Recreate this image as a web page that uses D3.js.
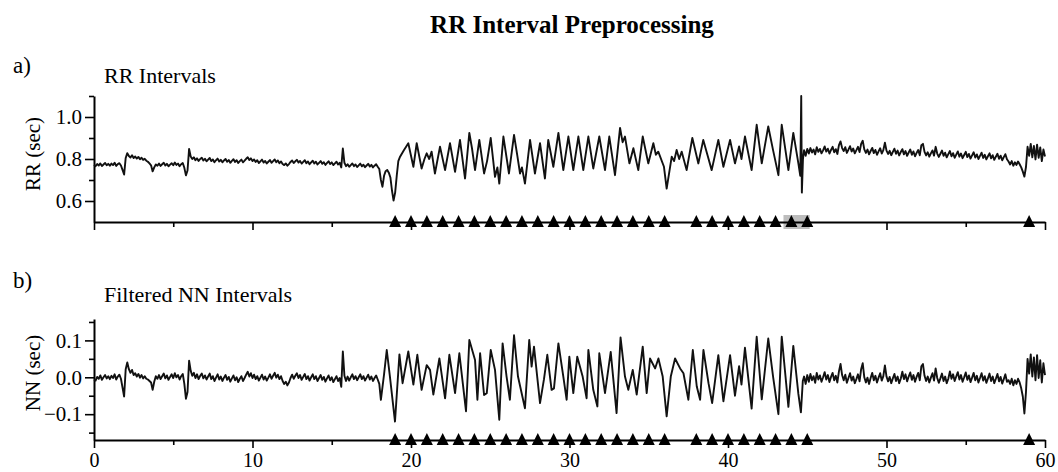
<!DOCTYPE html>
<html><head><meta charset="utf-8">
<script src="https://cdn.jsdelivr.net/npm/d3@7"></script>
<style>
body{margin:0;background:#fff}
svg{display:block}
svg text{font-family:"Liberation Serif","Times New Roman",serif !important;fill:#000}
</style>
</head><body>
<svg id="chart" width="1058" height="472"></svg>
<script>
// ---------- DATA (minutes, RR/NN in milliseconds) ----------
const sampleStep = 0.1;           // minutes between samples in regular segments
const rrEarlyStart = 0.0;
const rrEarly = [
772,766,776,769,779,767,774,781,770,777,
768,778,771,782,767,776,780,769,748,726,
805,828,814,807,818,805,812,802,810,799,
806,796,801,792,787,779,770,741,760,774,
768,778,767,775,782,769,777,765,773,780,
770,783,772,778,766,775,781,758,722,745,
848,812,800,808,794,803,791,800,806,793,
801,789,797,805,790,798,785,794,802,788,
796,784,793,800,787,795,782,791,799,786,
794,781,790,797,784,792,801,808,795,803,
790,798,786,794,781,789,797,783,791,779,
787,795,782,790,798,785,793,780,788,776,
771,779,768,776,786,793,781,789,796,783,
791,778,786,794,780,788,775,784,792,779,
787,774,782,790,777,785,772,781,789,776,
784,771,779,787,774,782,760,850,782,766,
775,763,771,779,766,774,762,770,778,765,
773,761,769,777,764,772,760,768,775,763,
752,700,668,720,742,748,735,712,650,602,
640,720,790];
const rrBurst = [
[19.31,811],[19.55,842],[19.83,875],[20.15,763],[20.36,875],[20.67,755],[20.85,800],[20.99,827],[21.15,800],[21.30,835],
[21.51,731],[21.83,859],[22.15,747],[22.46,875],[22.78,739],[23.09,891],[23.41,707],[23.68,924],[23.85,850],[24.04,747],
[24.31,891],[24.61,731],[24.8,790],[25.03,900],[25.30,715],[25.45,760],[25.57,683],[25.83,907],[26.18,731],[26.50,915],
[26.7,820],[26.88,731],[27.0,760],[27.19,683],[27.51,891],[27.82,731],[28.14,875],[28.45,707],[28.66,891],[28.98,763],
[29.30,924],[29.61,747],[29.93,907],[30.24,747],[30.56,907],[30.87,747],[31.19,907],[31.50,755],[31.88,907],[32.24,747],
[32.51,907],[32.87,723],[33.19,948],[33.35,880],[33.50,907],[33.78,779],[34.03,851],[34.34,747],[34.62,907],[34.97,779],
[35.29,875],[35.45,820],[35.60,835],[35.96,763],[36.13,659],[36.45,811],[36.6,790],[36.76,843],[36.92,800],[37.08,835],
[37.39,747],[37.75,900],[38.13,779],[38.44,891],[38.7,820],[38.97,747],[39.39,891],[39.71,763],[40.13,891],[40.44,779],
[40.7,860],[40.85,800],[41.07,907],[41.49,747],[41.81,963],[42.13,779],[42.54,955],[42.85,840],[43.18,723],[43.39,963],
[43.81,747],[44.12,924],[44.44,779],[44.56,720],[44.62,1100],[44.66,640],[44.73,800]];
const rrLateStart = 44.8;
const rrLate = [
842,815,848,826,852,831,845,822,856,834,
848,827,841,860,835,849,826,843,858,832,
847,824,866,884,852,838,856,829,845,861,
836,850,827,842,858,833,872,887,846,829,
845,822,838,853,828,843,820,836,851,826,
842,878,840,824,839,818,834,849,825,840,
817,833,847,822,838,815,831,845,820,836,
813,829,843,818,866,872,834,817,832,811,
827,841,816,858,826,810,825,840,815,830,
808,823,838,813,828,806,821,836,811,826,
804,819,834,809,824,802,817,832,807,822,
800,815,830,805,820,798,813,827,803,818,
796,811,825,801,816,794,809,823,799,788,
774,790,768,784,772,788,775,760,740,716,
762,858,815,872,808,862,798,868,806,855,
790,845,812];

const nnEarlyStart = 0.0;
const nnEarly = [
-6,-9,1,-4,5,-7,0,6,-3,3,
-5,4,-2,8,-6,2,7,-4,-28,-52,
22,40,22,12,20,6,11,2,9,-1,
6,-3,3,-4,-6,-10,-14,-34,-12,3,
-4,6,-5,3,10,-3,5,-7,1,8,
-2,11,0,6,-6,3,9,-18,-58,-40,
45,18,4,12,-2,8,-5,4,10,-3,
5,-6,2,10,-5,3,-10,-1,8,-6,
2,-10,-1,6,-7,1,-12,-3,5,-8,
0,-13,-4,3,-10,-2,7,15,2,11,
-2,7,-5,3,-9,-1,7,-6,2,-9,
-1,8,-4,4,12,-1,7,-5,3,-10,
-18,-12,-22,-14,-2,7,-4,4,11,-2,
6,-7,1,9,-5,3,-9,0,8,-5,
3,-10,-2,6,-7,1,-12,-3,5,-8,
0,-13,-5,3,-10,-2,-26,70,4,-10,
2,-9,0,8,-5,3,-8,0,8,-5,
3,-9,-1,7,-6,2,-10,-2,5,-6,
-18];
const nnBurst = [
[18.1,-61],[18.3,8],[18.47,74],[18.67,2],[18.99,-120],[19.27,62],[19.47,-16],[19.83,70],[20.15,-20],[20.40,61],
[20.67,-34],[20.99,33],[21.2,20],[21.41,-47],[21.79,51],[22.15,-57],[22.42,61],[22.78,-43],[23.05,65],[23.47,-92],
[23.68,101],[24.04,47],[24.19,-61],[24.36,65],[24.61,-48],[24.78,-43],[25.03,74],[25.30,20],[25.57,-115],[25.78,92],
[26.03,2],[26.24,-61],[26.50,114],[26.75,2],[27.19,-84],[27.46,101],[27.61,29],[27.76,83],[28.14,-70],[28.39,-5],
[28.6,61],[28.87,-34],[29.02,-30],[29.30,92],[29.61,2],[29.82,-61],[29.99,56],[30.24,-43],[30.49,56],[30.83,2],
[31.08,-57],[31.19,74],[31.50,-34],[31.76,-79],[31.88,65],[32.24,-43],[32.60,69],[32.97,-97],[33.22,108],[33.50,2],
[33.71,-34],[33.99,20],[34.24,-47],[34.62,83],[34.87,-43],[35.08,51],[35.40,24],[35.61,51],[35.88,2],[36.13,-106],
[36.39,2],[36.66,51],[36.98,24],[37.19,11],[37.50,-61],[37.78,74],[38.03,-25],[38.24,-61],[38.45,74],[38.77,-16],
[39.0,-70],[39.39,60],[39.71,-65],[40.13,60],[40.44,-50],[40.7,30],[40.85,-20],[41.07,80],[41.49,-85],[41.81,110],
[42.13,-60],[42.54,105],[42.85,0],[43.18,-100],[43.39,110],[43.81,-80],[44.12,85],[44.44,-45],[44.6,-95],[44.72,-10]];
const nnLateStart = 44.8;
const nnLate = [
2,-18,6,-12,9,-8,3,-15,12,-6,
5,-12,0,14,-6,6,-13,1,12,-8,
4,-14,16,36,6,-8,7,-15,-2,11,
-9,2,-16,-5,8,-11,22,38,0,-14,
-1,-18,-2,12,-8,4,-14,-1,11,-9,
3,32,2,-11,1,-16,-3,9,-10,2,
-16,-4,15,-5,8,-11,2,13,-7,6,
-12,1,12,-8,30,36,4,-10,2,-14,
-1,11,-9,24,-2,-15,-3,10,-10,2,
-16,-4,16,-4,8,-10,2,14,-6,6,
-12,0,13,-7,5,-13,-1,12,-8,4,
-14,-2,11,-9,3,-15,-3,10,-10,2,
-16,-4,9,-11,1,-17,-5,8,-12,-8,
-18,-4,-22,-8,-18,-4,-14,-30,-52,-98,
-40,50,10,62,2,54,-8,60,-2,46,
-14,38,6];

// detected-beat markers (minutes)
const markTimes = [19,20,21,22,23,24,25,26,27,28,29,30,31,32,33,34,35,36,
                   38,39,40,41,42,43,44,45,59];
const highlightSpan = [43.5, 45.15];   // grey box behind markers in panel a

const xMajorTicks = [0,10,20,30,40,50,60];
const xMinorTicks = [5,15,25,35,45,55];
const rrMajorTicks = [0.6,0.8,1.0];
const rrMinorTicks = [0.7,0.9,1.1];
const nnMajorTicks = [-0.1,0.0,0.1];
const nnMinorTicks = [-0.15,-0.05,0.05,0.15];

const titleText = "RR Interval Preprocessing";
const panelA = {letter:"a)", sub:"RR Intervals", ylab:"RR (sec)"};
const panelB = {letter:"b)", sub:"Filtered NN Intervals", ylab:"NN (sec)"};

// ---------- BUILD SERIES ----------
const seg = (start, arr) => arr.map((v,i) => [+(start + i*sampleStep).toFixed(2), v]);
const rrSeries = [...seg(rrEarlyStart, rrEarly), ...rrBurst, ...seg(rrLateStart, rrLate)];
const nnSeries = [...seg(nnEarlyStart, nnEarly), ...nnBurst, ...seg(nnLateStart, nnLate)];

// ---------- DRAW ----------
const svg = d3.select("#chart");
const x = d3.scaleLinear().domain([0,60]).range([94,1045]);
const yA = d3.scaleLinear().domain([0.5,1.1]).range([222,96]);
const yB = d3.scaleLinear().domain([-0.17,0.158]).range([440,319]);

const FONT = 21;

svg.append("text").attr("x",572).attr("y",33).attr("text-anchor","middle")
  .style("font-weight","bold").style("font-size","25px").text(titleText);

function panel(p, y, series, fmt, majors, minors, showX, letterY, subY, ylabY) {
  svg.append("text").attr("x",13).attr("y",letterY).style("font-size","23px").text(p.letter);
  svg.append("text").attr("x",104).attr("y",subY).style("font-size","22px").text(p.sub);
  svg.append("text").attr("transform",`translate(40,${ylabY}) rotate(-90)`)
    .attr("text-anchor","middle").style("font-size",FONT+"px").text(p.ylab);

  const y0 = y.range()[0];
  if (showX === false) {
    svg.append("rect")
      .attr("x", x(highlightSpan[0])).attr("width", x(highlightSpan[1]) - x(highlightSpan[0]))
      .attr("y", y0 - 7).attr("height", 14).attr("fill", "#bdbdbd");
  }

  // y axis
  const gy = svg.append("g").attr("transform","translate(94,0)");
  gy.call(d3.axisLeft(y).tickValues(majors).tickSize(9).tickPadding(3).tickSizeOuter(0).tickFormat(fmt));
  gy.append("g").call(d3.axisLeft(y).tickValues(minors).tickSize(5).tickFormat(""))
    .select(".domain").remove();
  // x axis
  const gx = svg.append("g").attr("transform",`translate(0,${y0})`);
  gx.call(d3.axisBottom(x).tickValues(xMajorTicks).tickSize(8).tickPadding(5).tickSizeOuter(0)
    .tickFormat(showX ? d3.format("d") : ""));
  gx.append("g").call(d3.axisBottom(x).tickValues(xMinorTicks).tickSize(5).tickFormat(""))
    .select(".domain").remove();
  gx.selectAll(".tick text").style("font-size","20px");

  gy.selectAll(".tick text").style("font-size",FONT+"px");
  svg.selectAll(".domain").attr("stroke","#000").attr("stroke-width",2);
  svg.selectAll(".tick line").attr("stroke","#000").attr("stroke-width",1.6);

  // trace
  svg.append("path").datum(series)
    .attr("fill","none").attr("stroke","#111").attr("stroke-width",1.9).attr("stroke-linejoin","round")
    .attr("d", d3.line().x(d => x(d[0])).y(d => y(d[1]/1000)));

  // markers
  svg.append("g").selectAll("path").data(markTimes).join("path")
    .attr("fill","#000")
    .attr("d", t => { const cx = x(t); return `M${cx-6},${y0+5}L${cx+6},${y0+5}L${cx},${y0-7}Z`; });
}

panel(panelA, yA, rrSeries, d3.format(".1f"), rrMajorTicks, rrMinorTicks, false, 73, 83, 154);
panel(panelB, yB, nnSeries, d3.format(".1f"), nnMajorTicks, nnMinorTicks, true, 288, 302, 373);
</script>
</body></html>
